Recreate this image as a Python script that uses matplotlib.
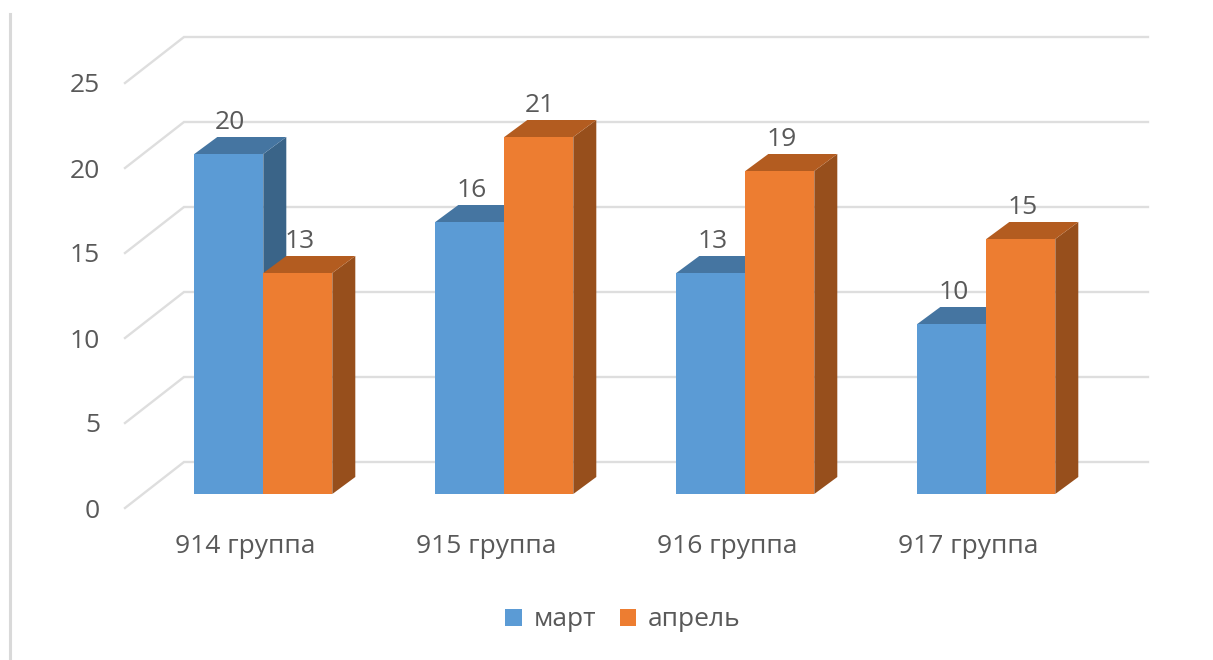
import matplotlib
matplotlib.use('Agg')
import matplotlib.pyplot as plt
from matplotlib.lines import Line2D
from matplotlib.patches import Patch, Polygon

plt.rcParams['font.family'] = ['Open Sans', 'DejaVu Sans']

groups = ['914 группа', '915 группа', '916 группа', '917 группа']
march = [20, 16, 13, 10]
april = [13, 21, 19, 15]
y_ticks = [0, 5, 10, 15, 20, 25]

W, H = 1213, 660
text_color = '#595959'
grid_color = '#DEDEDE'
fs = 19

# front plane of the fake 3d box, in pixels
left, right, bottom, top = 125, 1089, 508, 83
px_x = (right - left) / 4
px_y = (bottom - top) / 25

# depth in pixels -> data units
def dx(px):
    return px / px_x

def dy(px):
    return px / px_y

fig = plt.figure(figsize=(W / 100, H / 100), dpi=100)
ax = fig.add_axes([left / W, 1 - bottom / H, (right - left) / W, (bottom - top) / H])
ax.set_xlim(-0.5, 3.5)
ax.set_ylim(0, 25)
ax.patch.set_visible(False)
for s in ax.spines.values():
    s.set_visible(False)

ax.set_xticks(range(4))
ax.set_xticklabels(groups)
ax.set_yticks(y_ticks)
ax.tick_params(axis='both', length=0, labelsize=fs, labelcolor=text_color)
ax.tick_params(axis='x', pad=18.5)
ax.tick_params(axis='y', pad=18)

# walls: floor edge and back wall for every tick
for v in y_ticks:
    ax.plot([-0.5, -0.5 + dx(59), 3.5 + dx(59)], [v, v + dy(46), v + dy(46)],
            color=grid_color, lw=1.7, clip_on=False, zorder=1, solid_joinstyle='miter')

bar_w = 69 / px_x
shift_x, shift_y = dx(18), dy(14)  # bar front inside the floor
depth_x, depth_y = dx(23), dy(17)


def bar3d(x0, v, front, top_c, side_c, z):
    x0 = x0 + shift_x
    y0 = shift_y
    y1 = v + shift_y
    x1 = x0 + bar_w
    ax.add_patch(Polygon([(x1, y0), (x1 + depth_x, y0 + depth_y), (x1 + depth_x, y1 + depth_y), (x1, y1)],
                         fc=side_c, ec='none', zorder=z, clip_on=False))
    ax.add_patch(Polygon([(x0, y1), (x1, y1), (x1 + depth_x, y1 + depth_y), (x0 + depth_x, y1 + depth_y)],
                         fc=top_c, ec='none', zorder=z, clip_on=False))
    ax.add_patch(Polygon([(x0, y0), (x1, y0), (x1, y1), (x0, y1)],
                         fc=front, ec='none', zorder=z, clip_on=False))
    ax.annotate(str(v), (x0 + bar_w / 2, y1), xytext=(1.5 * 0.72, 31.5 * 0.72), textcoords='offset points',
                ha='center', va='center', fontsize=fs, color=text_color, zorder=10)


for i in range(4):
    bar3d(i - bar_w - dx(0.2), march[i], '#5B9BD5', '#4575A1', '#3A6488', 3 + i * 2)
    bar3d(i - dx(0.2), april[i], '#ED7D31', '#B35C20', '#974F1C', 4 + i * 2)

handles = [Patch(fc='#5B9BD5', label='март'), Patch(fc='#ED7D31', label='апрель')]
fig.legend(handles=handles, loc='center', bbox_to_anchor=(623 / W, 1 - 620 / H), ncol=2, frameon=False,
           fontsize=fs, labelcolor=text_color, handlelength=0.62, handleheight=0.62,
           handletextpad=0.45, columnspacing=0.9)

# left border of the screenshot
fig.add_artist(Line2D([9.5 / W, 9.5 / W], [0, 1 - 14 / H], color='#D9D9D9', lw=2.2))

fig.savefig('out.png', dpi=100)
